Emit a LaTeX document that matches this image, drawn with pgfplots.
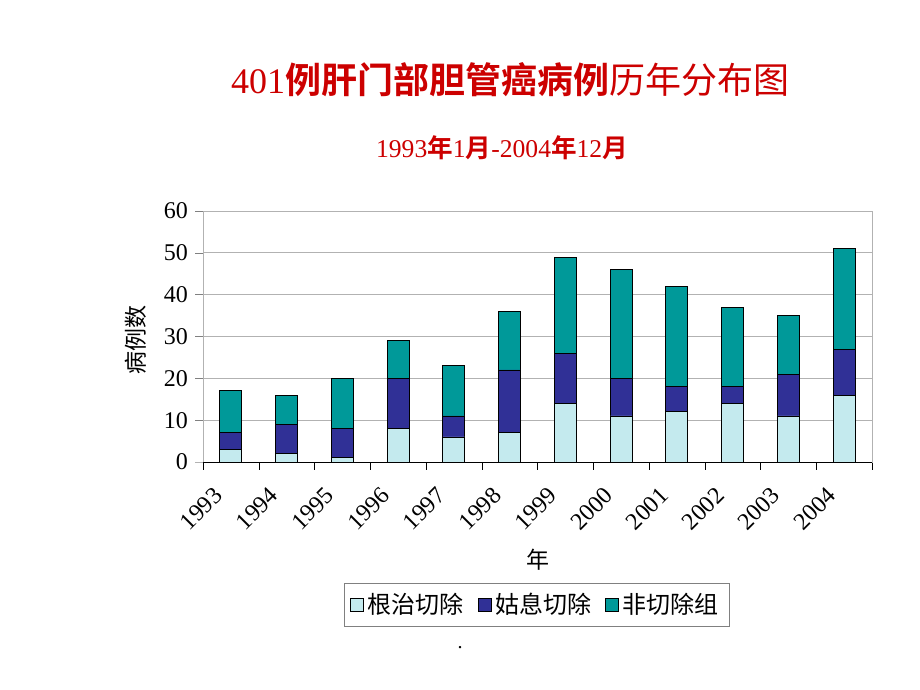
\documentclass[border=0pt]{standalone}
\usepackage{fontspec}
\setmainfont{Liberation Serif}
\newfontfamily\cjk{Noto Sans CJK SC}
\newfontfamily\cjkb{Noto Sans CJK SC Bold}
\usepackage{pgfplots}
\pgfplotsset{compat=1.18}
\definecolor{titlered}{RGB}{204,0,0}
\definecolor{clight}{RGB}{196,234,238}
\definecolor{cdark}{RGB}{48,48,150}
\definecolor{cteal}{RGB}{0,153,153}
\begin{document}
\begin{tikzpicture}
\path[use as bounding box] (0pt,0pt) rectangle (460pt,345pt);
\node[text=titlered, font=\fontsize{18}{18}\selectfont, inner sep=0pt] at (255pt,305pt) {401{\cjkb 例肝门部胆管癌病例}{\cjk 历年分布图}};
\node[text=titlered, font=\fontsize{12.8}{12.8}\selectfont, inner sep=0pt] at (251pt,271pt) {1993{\cjkb 年}1{\cjkb 月}-2004{\cjkb 年}12{\cjkb 月}};
\node[font=\fontsize{10}{10}\selectfont, inner sep=0pt] at (230pt,21pt) {.};
\begin{axis}[
  at={(101.5pt,114pt)}, anchor=south west,
  scale only axis, width=334.5pt, height=125.5pt,
  ybar stacked, bar width=11pt,
  xmin=-0.5, xmax=11.5, ymin=0, ymax=60,
  ytick={0,10,...,60},
  xtick={0,...,11},
  xticklabels={1993,1994,1995,1996,1997,1998,1999,2000,2001,2002,2003,2004},
  xtick pos=bottom, ytick pos=left,
  major x tick style={draw=none},
  minor xtick={-0.5,0.5,...,11.5},
  minor x tick style={black},
  minor tick length=4pt,
  major tick length=4pt,
  tick align=outside,
  ymajorgrids, grid style={gray!60},
  axis line style={gray!60},
  extra y ticks={0}, extra y tick labels={},
  extra y tick style={grid style={black}, tick style={gray!60}},
  /pgf/number format/assume math mode=true,
  tick label style={font=\fontsize{12}{12}\selectfont},
  xticklabel style={rotate=45, anchor=north east, inner sep=1pt, xshift=-11pt, yshift=2pt},
  xlabel={\cjk 年},
  xlabel style={at={(0.5,-0.39)}, anchor=center, font=\fontsize{11.5}{11.5}\selectfont},
  ylabel={\cjk 病例数},
  ylabel style={at={(-0.1,0.486)}, anchor=center, font=\fontsize{11.5}{11.5}\selectfont},
  legend columns=3,
  legend style={at={(0.4985,-0.570)}, anchor=center, draw=gray, font=\fontsize{12}{12}\selectfont,
    /tikz/every even column/.append style={column sep=5pt}, inner sep=3pt},
  legend image code/.code={\draw[#1, draw=black] (0pt,-3.2pt) rectangle (6.4pt,3.2pt);},
  every axis plot/.append style={draw=black, line width=0.4pt},
]
\addplot[fill=clight] coordinates {(0,3) (1,2) (2,1) (3,8) (4,6) (5,7) (6,14) (7,11) (8,12) (9,14) (10,11) (11,16)};
\addplot[fill=cdark] coordinates {(0,4) (1,7) (2,7) (3,12) (4,5) (5,15) (6,12) (7,9) (8,6) (9,4) (10,10) (11,11)};
\addplot[fill=cteal] coordinates {(0,10) (1,7) (2,12) (3,9) (4,12) (5,14) (6,23) (7,26) (8,24) (9,19) (10,14) (11,24)};
\addlegendentry{\cjk 根治切除}
\addlegendentry{\cjk 姑息切除}
\addlegendentry{\cjk 非切除组}
\end{axis}
\end{tikzpicture}
\end{document}
